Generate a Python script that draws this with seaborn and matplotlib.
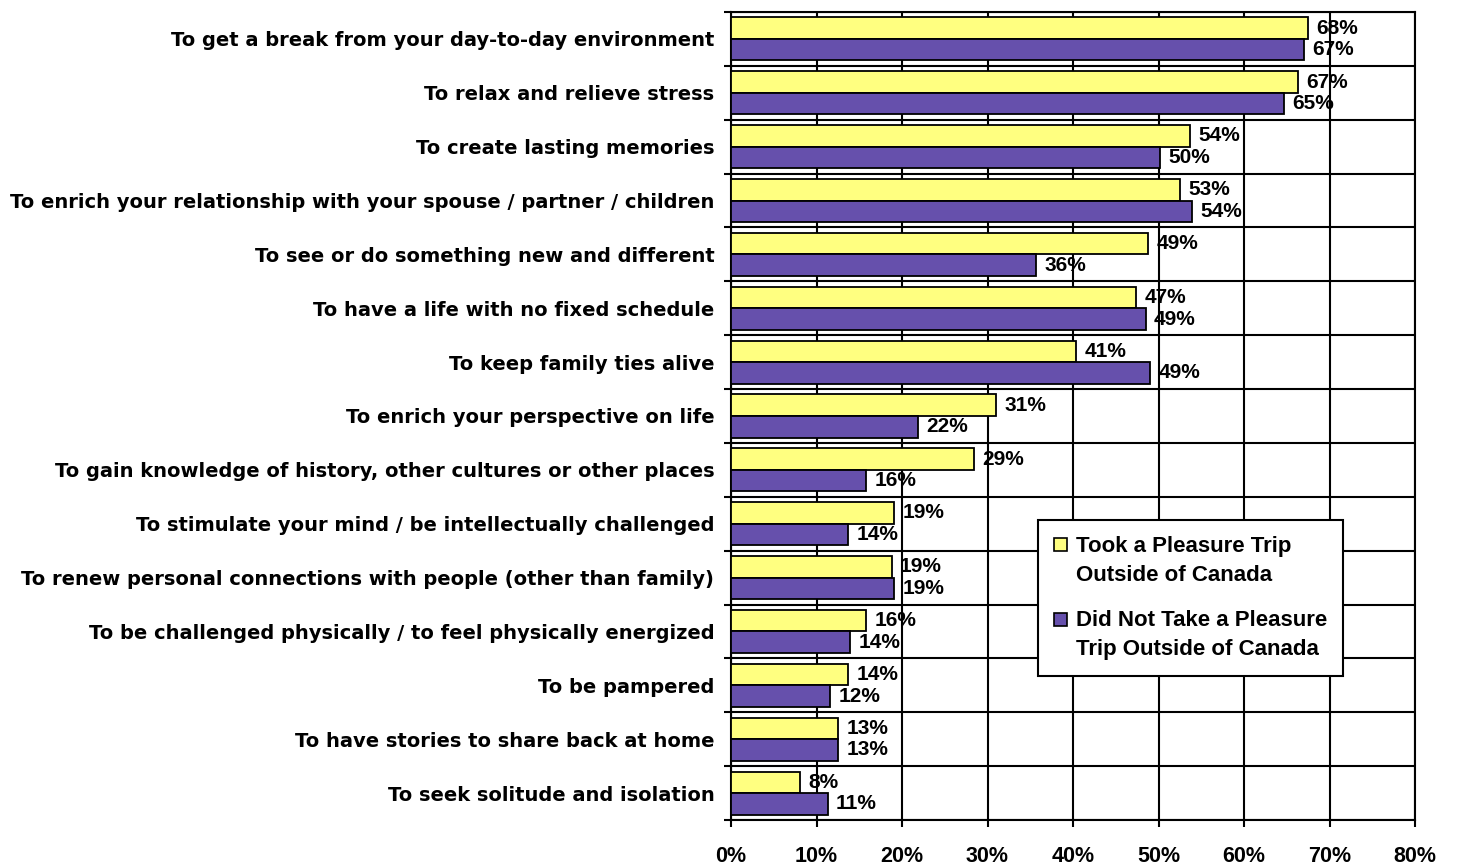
import matplotlib
matplotlib.use("Agg")
import matplotlib.pyplot as plt
from matplotlib import font_manager as fm
from matplotlib.legend_handler import HandlerPatch
from matplotlib.patches import Rectangle
import seaborn as sns
import pandas as pd
import numpy as np

categories = [
    "To get a break from your day-to-day environment",
    "To relax and relieve stress",
    "To create lasting memories",
    "To enrich your relationship with your spouse / partner / children",
    "To see or do something new and different",
    "To have a life with no fixed schedule",
    "To keep family ties alive",
    "To enrich your perspective on life",
    "To gain knowledge of history, other cultures or other places",
    "To stimulate your mind / be intellectually challenged",
    "To renew personal connections with people (other than family)",
    "To be challenged physically / to feel physically energized",
    "To be pampered",
    "To have stories to share back at home",
    "To seek solitude and isolation",
]
series_names = ["Took a Pleasure Trip\nOutside of Canada",
                "Did Not Take a Pleasure\nTrip Outside of Canada"]
took_values = [67.5, 66.3, 53.7, 52.5, 48.8, 47.4, 40.4, 31.0, 28.4, 19.1, 18.8, 15.8, 13.7, 12.5, 8.1]
not_values = [67.0, 64.7, 50.2, 53.9, 35.7, 48.5, 49.0, 21.9, 15.8, 13.7, 19.1, 13.9, 11.6, 12.5, 11.3]
took_labels = [68, 67, 54, 53, 49, 47, 41, 31, 29, 19, 19, 16, 14, 13, 8]
not_labels = [67, 65, 50, 54, 36, 49, 49, 22, 16, 14, 19, 14, 12, 13, 11]
x_ticks = [0, 10, 20, 30, 40, 50, 60, 70, 80]
x_tick_labels = ["0%", "10%", "20%", "30%", "40%", "50%", "60%", "70%", "80%"]

YELLOW = "#FFFF80"
PURPLE = "#6650AC"

sns.set_theme(style="white")
plt.rcParams['font.family'] = ['Liberation Sans', 'DejaVu Sans']
plt.rcParams['text.color'] = 'black'
plt.rcParams['xtick.color'] = 'black'
plt.rcParams['ytick.color'] = 'black'

# locate the regular-width Liberation Sans Bold file (avoid the Narrow variant)
bold_path = None
for f in fm.fontManager.ttflist:
    if f.name == 'Liberation Sans' and f.style == 'normal' and f.weight in (700, 'bold') \
            and 'narrow' not in f.fname.lower():
        bold_path = f.fname
        break


def arial_bold(size):
    if bold_path:
        return fm.FontProperties(fname=bold_path, size=size)
    return fm.FontProperties(family='DejaVu Sans', weight='bold', size=size)


df = pd.DataFrame({
    "category": categories * 2,
    "value": took_values + not_values,
    "group": [series_names[0]] * len(categories) + [series_names[1]] * len(categories),
})

fig = plt.figure(figsize=(14.57, 8.67), dpi=100)
ax = fig.add_axes([731/1457, 1 - 820/867, (1415-731)/1457, (820-12)/867])

sns.barplot(data=df, y="category", x="value", hue="group", orient="h",
            palette=[YELLOW, PURPLE], saturation=1, edgecolor="black", linewidth=1.3,
            width=0.8, dodge=True, ax=ax, zorder=3)

ax.set_xlim(0, 80)
ax.set_ylim(len(categories) - 0.5, -0.5)
ax.set_xticks(x_ticks)
ax.set_xticklabels(x_tick_labels, fontproperties=arial_bold(15.5), color='black')
ax.set_yticks(range(len(categories)))
ax.set_yticklabels(categories, fontsize=14.0, fontweight='bold', color='black',
                   family=['DejaVu Sans'])
ax.set_yticks(np.arange(-0.5, len(categories), 1.0), minor=True)
ax.set_xlabel("")
ax.set_ylabel("")

ax.tick_params(axis='y', which='major', length=0, pad=12)
ax.tick_params(axis='y', which='minor', length=5, width=1.5, color='black', direction='out', left=True)
ax.tick_params(axis='x', which='major', length=5, width=1.5, color='black', direction='out', bottom=True, pad=14)

ax.grid(True, axis='x', which='major', color='black', linewidth=1.5, zorder=0)
ax.grid(True, axis='y', which='minor', color='black', linewidth=1.5, zorder=0)
ax.grid(False, axis='y', which='major')
ax.set_axisbelow(True)
for s in ax.spines.values():
    s.set_visible(True)
    s.set_color('black')
    s.set_linewidth(1.5)

for cont, labs in zip(ax.containers, [took_labels, not_labels]):
    ax.bar_label(cont, labels=[f"{v}%" for v in labs], padding=6,
                 fontproperties=arial_bold(15.0), color='black', zorder=5)


def top_square(legend, orig_handle, xdescent, ydescent, width, height, fontsize):
    s = 0.6 * fontsize
    return Rectangle((-xdescent, -ydescent + height - s + 0.15 * fontsize), s, s)


handles, _ = ax.get_legend_handles_labels()
leg = ax.legend(handles, series_names, loc='upper left',
                bbox_to_anchor=((1038-731)/684, (820-520)/808),
                prop=arial_bold(16.0), frameon=True, fancybox=False, framealpha=1,
                edgecolor='black', handlelength=0.6, handleheight=2.5,
                handletextpad=0.4, labelspacing=1.1, borderpad=0.72,
                borderaxespad=0,
                handler_map={type(handles[0]): HandlerPatch(patch_func=top_square)})
leg.get_frame().set_linewidth(1.5)
for t in leg.get_texts():
    t.set_color('black')
    t.set_linespacing(1.5)
for h in leg.legend_handles:
    h.set_edgecolor('black')
    h.set_linewidth(1.2)

fig.savefig("out.png", dpi=100)
